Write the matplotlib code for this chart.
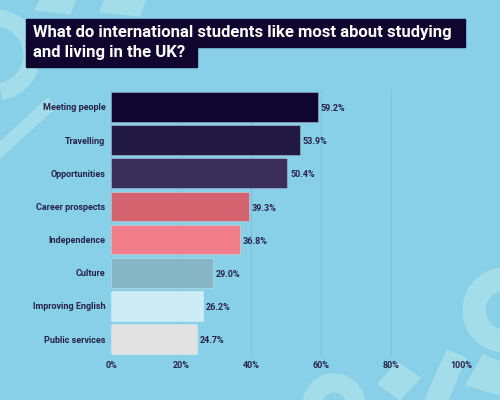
import matplotlib.pyplot as plt
from matplotlib.patches import Rectangle, Wedge, Polygon

categories = ["Meeting people", "Travelling", "Opportunities", "Career prospects",
              "Independence", "Culture", "Improving English", "Public services"]
values = [59.2, 53.9, 50.4, 39.3, 36.8, 29.0, 26.2, 24.7]
colors = ["#10052e", "#221a42", "#3a2f5b", "#d2636f",
          "#f07d88", "#86b6c4", "#ceecf5", "#e2e2e2"]
ticks = [0, 20, 40, 60, 80, 100]
title_lines = ["What do international students like most about studying",
               "and living in the UK?"]

bg = "#88d0e8"
deco = "#a2dde9"
text_col = "#272248"

plt.rcParams['font.family'] = ['Roboto', 'DejaVu Sans']

fig = plt.figure(figsize=(5, 4), dpi=100)
fig.patch.set_facecolor(bg)
px = fig.dpi_scale_trans


def P(x, y):
    # pixel position measured from the top left -> inches
    return (x / 100, (400 - y) / 100)


# background shapes
shapes = [
    Wedge(P(-5, 55), 0.45, -80, 85, width=0.16),
    Polygon([P(0, 142), P(48, 98), P(55, 108), P(0, 158)]),
    Polygon([P(105, 0), P(145, 0), P(140, 16), P(100, 12)]),
    Polygon([P(40, 0), P(75, 0), P(70, 14), P(35, 10)]),
    Wedge(P(334, 405), 0.31, 0, 180, width=0.18),
    Wedge(P(505, 310), 0.42, 95, 330, width=0.22),
    Polygon([P(378, 384), P(398, 362), P(420, 378), P(400, 400)]),
    Polygon([P(425, 400), P(447, 350), P(466, 358), P(448, 400)]),
    Polygon([P(466, 385), P(483, 355), P(500, 362), P(500, 395)]),
]
for s in shapes:
    s.set_transform(px)
    s.set_color(deco)
    s.set_zorder(-2)
    fig.patches.append(s)

# title boxes
fig.patches.append(Rectangle((26 / 500, 1 - 47 / 400), 439 / 500, 28 / 400,
                             transform=fig.transFigure, color="#10052e", zorder=2))
fig.patches.append(Rectangle((26 / 500, 1 - 67 / 400), 171 / 500, 21 / 400,
                             transform=fig.transFigure, color="#10052e", zorder=2))
fig.text(33 / 500, 1 - 37.5 / 400, title_lines[0], color="white", fontsize=12,
         fontweight="bold", va="baseline", ha="left", zorder=3)
fig.text(33 / 500, 1 - 57.5 / 400, title_lines[1], color="white", fontsize=12,
         fontweight="bold", va="baseline", ha="left", zorder=3)

ax = fig.add_axes([111 / 500, 1 - 355.6 / 400, 350 / 500, 265.2 / 400])
ax.set_facecolor("none")
ypos = list(range(len(categories)))
ax.barh(ypos, values, height=0.9, color=colors, edgecolor="#ffffff55",
        linewidth=0.6, zorder=3)
for y, v in zip(ypos, values):
    ax.text(v + 0.8, y + 0.05, f"{v:.1f}%", va="center", ha="left",
            fontsize=6.5, fontweight="bold", color=text_col)

ax.set_xlim(0, 100)
ax.set_ylim(len(categories) - 0.5, -0.5)
ax.set_xticks(ticks)
ax.set_xticklabels([f"{t}%" for t in ticks])
ax.set_yticks(ypos)
ax.set_yticklabels(categories)
ax.tick_params(length=0, labelsize=6.5, labelcolor=text_col, pad=4)
for lab in ax.get_xticklabels() + ax.get_yticklabels():
    lab.set_fontweight("bold")
ax.grid(axis="x", color="#7cc3da", linewidth=0.8, zorder=0)
for s in ax.spines.values():
    s.set_visible(False)

fig.savefig("out.png", dpi=100, facecolor=bg)
